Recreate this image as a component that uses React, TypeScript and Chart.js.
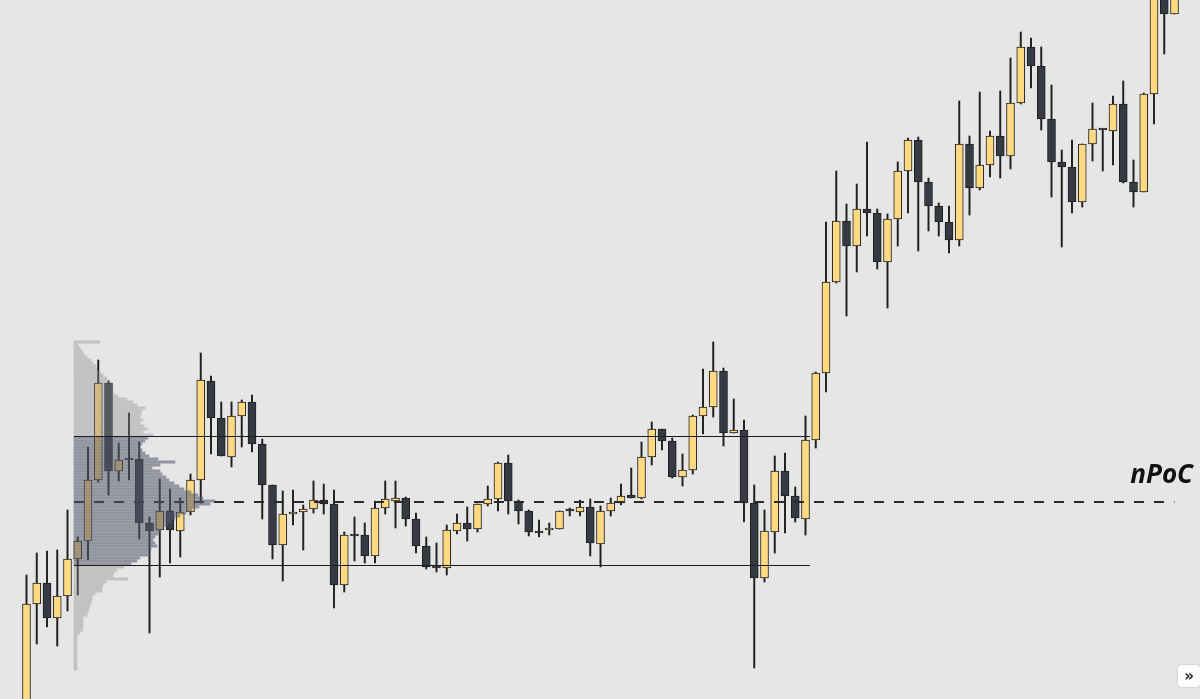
import React, { useEffect, useRef } from "react";
import { Chart, registerables } from "chart.js";

Chart.register(...registerables);

// Candles (price units), one per session, left to right
const OPEN = [
  -20, 96, 117, 82, 104, 141, 159, 220, 317, 229,
  241, 241, 177, 170, 189, 169, 188, 220, 319, 282,
  243, 284, 298, 256, 215, 155, 186, 188, 191, 200,
  196, 115, 165, 165, 144, 192, 199, 202, 181, 154,
  133, 132, 169, 177, 171, 196, 201, 237, 199, 189,
  168, 170, 171, 190, 188, 193, 156, 189, 197, 205,
  202, 243, 271, 259, 223, 230, 284, 293, 329, 267,
  270, 197, 122, 168, 229, 204, 181, 260, 327, 418,
  479, 454, 491, 487, 438, 481, 529, 560, 518, 494,
  478, 460, 556, 512, 535, 564, 544, 597, 653, 634,
  581, 538, 533, 498, 556, 571, 569, 596, 518, 508,
  606, 710, 686,
];
const HIGH = [
  125, 147, 149, 150, 190, 163, 253, 340, 319, 257,
  287, 258, 183, 221, 211, 202, 226, 347, 324, 298,
  298, 300, 305, 261, 215, 209, 210, 195, 219, 216,
  210, 168, 183, 177, 199, 219, 219, 203, 187, 163,
  157, 175, 186, 193, 196, 214, 238, 245, 200, 190,
  180, 177, 189, 192, 200, 201, 194, 202, 216, 232,
  258, 278, 271, 262, 246, 285, 331, 358, 332, 301,
  280, 215, 190, 244, 247, 213, 284, 328, 478, 529,
  496, 516, 558, 491, 486, 538, 562, 563, 522, 497,
  494, 599, 564, 608, 569, 609, 642, 668, 662, 653,
  615, 550, 560, 556, 597, 571, 604, 619, 540, 607,
  730, 720, 725,
];
const LOW = [
  -35, 56, 73, 54, 89, 105, 140, 218, 205, 219,
  220, 161, 67, 123, 137, 143, 185, 197, 246, 244,
  233, 253, 248, 181, 141, 119, 175, 150, 187, 186,
  92, 108, 139, 137, 137, 186, 172, 174, 147, 131,
  128, 125, 166, 159, 168, 194, 189, 186, 176, 164,
  163, 165, 171, 184, 184, 144, 133, 184, 195, 202,
  201, 235, 250, 222, 214, 226, 266, 283, 254, 267,
  178, 32, 118, 147, 167, 178, 165, 252, 308, 417,
  384, 428, 464, 431, 392, 454, 487, 449, 469, 464,
  447, 454, 485, 510, 523, 522, 531, 596, 612, 570,
  503, 453, 487, 493, 539, 529, 535, 517, 493, 508,
  576, 646, 686,
];
const CLOSE = [
  96, 117, 82, 104, 141, 159, 220, 317, 229, 240,
  240, 177, 169, 189, 170, 188, 220, 320, 282, 244,
  284, 298, 256, 215, 155, 186, 188, 191, 200, 196,
  115, 165, 164, 144, 192, 201, 202, 181, 154, 133,
  132, 170, 177, 171, 196, 201, 237, 199, 189, 168,
  167, 171, 189, 189, 193, 157, 189, 197, 204, 202,
  243, 271, 259, 223, 230, 284, 293, 329, 267, 270,
  197, 122, 169, 229, 204, 182, 260, 327, 418, 479,
  454, 491, 487, 438, 481, 529, 560, 518, 494, 478,
  460, 556, 512, 535, 564, 544, 597, 653, 634, 581,
  538, 533, 498, 556, 571, 570, 596, 518, 508, 606,
  720, 686, 715,
];

// Volume profile: volume per price row, from the top row downward
const PROFILE_TOP = 358;
const PROFILE_STEP = 3;
const PROFILE_VOLUME = [
  26, 4, 6, 8, 10, 13, 17, 19, 22, 23,
  26, 29, 33, 36, 38, 39, 39, 40, 44, 53,
  59, 63, 71, 68, 67, 66, 69, 66, 70, 73,
  69, 79, 74, 71, 68, 66, 68, 71, 75, 84,
  101, 86, 78, 86, 88, 92, 95, 100, 105, 110,
  117, 124, 129, 141, 136, 125, 118, 112, 106, 101,
  97, 93, 89, 86, 84, 81, 79, 81, 83, 77,
  74, 76, 66, 63, 57, 50, 43, 40, 39, 54,
  32, 29, 28, 28, 21, 18, 18, 17, 16, 15,
  14, 13, 9, 9, 9, 9, 9, 6, 3, 3,
  3, 3, 3, 3, 3, 3, 3, 3, 3, 3,
];
const PROFILE_START = 4.63; // in candle index units
const VOLUME_PER_SLOT = 10.25;

// Levels
const VAH = 263.5;
const VAL = 134.5;
const VA_END = 76.44;
const NPOC = 198;
const NPOC_END = 112;
const NPOC_LABEL = "nPoC";

const BULL = "#ffd981";
const BEAR = "#363a43";
const EDGE = "#1f1f1f";

export default function App() {
  const ref = useRef<HTMLCanvasElement | null>(null);

  useEffect(() => {
    const canvas = ref.current;
    if (!canvas) return;
    const idx = OPEN.map((_, i) => i);
    const bodyColors = idx.map((i) => (CLOSE[i] >= OPEN[i] ? BULL : BEAR));
    const profilePrices = PROFILE_VOLUME.map((_, k) => PROFILE_TOP - k * PROFILE_STEP);

    const labelPlugin = {
      id: "npocLabel",
      afterDatasetsDraw(chart: any) {
        const { ctx, chartArea, scales } = chart;
        ctx.save();
        ctx.font = 'italic 700 26px "Open Sans"';
        ctx.fillStyle = "#111";
        ctx.textAlign = "right";
        ctx.textBaseline = "alphabetic";
        ctx.fillText(NPOC_LABEL, chartArea.right - 7, scales.y.getPixelForValue(NPOC) - 19);
        ctx.restore();
      },
    };

    const chart = new Chart(canvas, {
      type: "bar",
      data: {
        datasets: [
          {
            type: "line",
            data: [
              { x: PROFILE_START, y: VAH },
              { x: VA_END, y: VAH },
            ],
            borderColor: "#1a1a1a",
            borderWidth: 1,
            pointRadius: 0,
            order: 0,
          } as any,
          {
            type: "line",
            data: [
              { x: PROFILE_START, y: VAL },
              { x: VA_END, y: VAL },
            ],
            borderColor: "#1a1a1a",
            borderWidth: 1,
            pointRadius: 0,
            order: 0,
          } as any,
          {
            type: "bar",
            indexAxis: "y",
            data: PROFILE_VOLUME.map((v, k) => ({
              y: profilePrices[k],
              x: [PROFILE_START, PROFILE_START + v / VOLUME_PER_SLOT],
            })),
            backgroundColor: profilePrices.map((p) =>
              p <= VAH && p >= VAL ? "rgba(85,90,108,0.58)" : "rgba(140,140,146,0.4)"
            ),
            borderWidth: 0,
            barThickness: 2.5,
            grouped: false,
            order: 1,
          } as any,
          {
            type: "line",
            data: [
              { x: PROFILE_START, y: NPOC },
              { x: NPOC_END, y: NPOC },
            ],
            borderColor: "#2a2a2a",
            borderWidth: 2,
            borderDash: [10, 10],
            pointRadius: 0,
            order: 2,
          } as any,
          {
            type: "bar",
            data: idx.map((i) => ({ x: i, y: [OPEN[i], CLOSE[i]] })),
            backgroundColor: bodyColors,
            borderColor: EDGE,
            borderWidth: 1,
            borderSkipped: false,
            barThickness: 8,
            minBarLength: 2,
            grouped: false,
            order: 3,
          } as any,
          {
            type: "bar",
            data: idx.map((i) => ({ x: i, y: [LOW[i], HIGH[i]] })),
            backgroundColor: EDGE,
            borderWidth: 0,
            barThickness: 1.3,
            grouped: false,
            order: 4,
          } as any,
        ],
      },
      options: {
        animation: false,
        responsive: false,
        devicePixelRatio: 1,
        layout: { padding: 0 },
        plugins: { legend: { display: false }, tooltip: { enabled: false } },
        scales: {
          x: {
            type: "linear",
            min: -26.5 / 10.25,
            max: (1200 - 26.5) / 10.25,
            offset: false,
            display: false,
          },
          y: {
            type: "linear",
            min: 1,
            max: 700,
            offset: false,
            display: false,
          },
        },
      } as any,
      plugins: [labelPlugin],
    });
    return () => chart.destroy();
  }, []);

  return (
    <div
      style={{
        position: "fixed",
        left: 0,
        top: 0,
        width: 1200,
        height: 699,
        background: "#e6e6e6",
        overflow: "hidden",
      }}
    >
      <canvas ref={ref} width={1200} height={699} style={{ display: "block", width: 1200, height: 699 }} />
      <div
        style={{
          position: "absolute",
          left: 1178,
          top: 665,
          width: 22,
          height: 22,
          background: "#fdfdfd",
          borderRadius: 4,
          boxShadow: "0 0 2px rgba(0,0,0,0.25)",
          display: "flex",
          alignItems: "center",
          justifyContent: "center",
          font: 'bold 15px "DejaVu Sans"',
          color: "#222",
          lineHeight: "22px",
        }}
      >
        »
      </div>
    </div>
  );
}
